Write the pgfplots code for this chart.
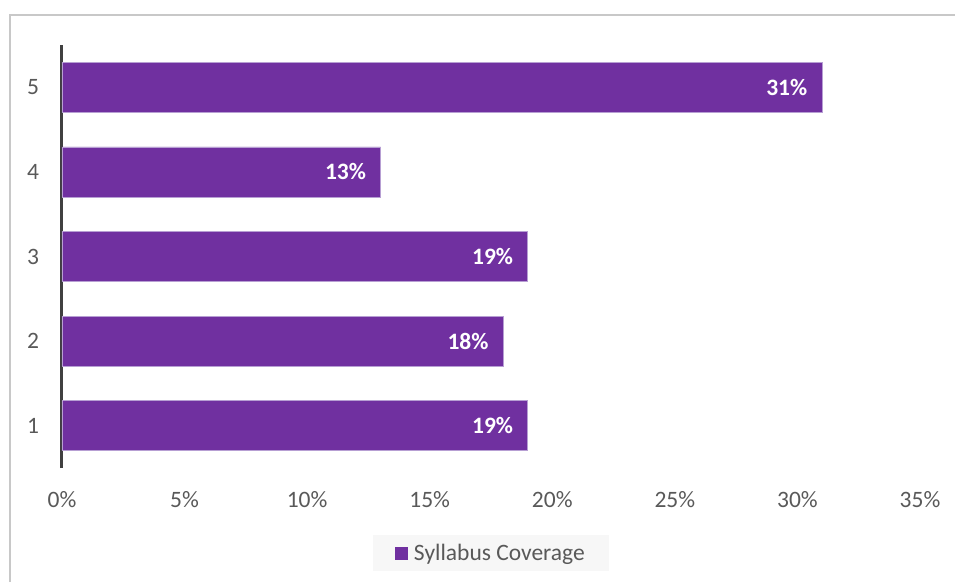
\documentclass[border=0pt]{standalone}
\usepackage{pgfplots}
\pgfplotsset{compat=1.18}
\usepackage{fontspec}
\setmainfont{Carlito}
\definecolor{barpurple}{HTML}{7030A0}
\definecolor{baredge}{HTML}{B79FD3}
\definecolor{ticktext}{HTML}{595959}
\definecolor{axisline}{HTML}{404040}
\definecolor{framecol}{HTML}{C8C8C8}
\definecolor{legfill}{HTML}{F7F7F7}
\begin{document}
\begin{tikzpicture}[x=1pt,y=1pt]
\path[use as bounding box] (0,0) rectangle (955,582);
\draw[framecol, line width=1.5pt] (10,0) -- (10,567) -- (955,567);
\begin{axis}[
  at={(62pt,114pt)}, anchor=south west,
  scale only axis, width=858pt, height=423pt,
  xmin=0, xmax=35, ymin=0.5, ymax=5.5,
  axis lines*=left,
  x axis line style={draw=none},
  y axis line style={draw=axisline, line width=3pt, -},
  xtick={0,5,...,35},
  xticklabels={0\%,5\%,10\%,15\%,20\%,25\%,30\%,35\%},
  ytick={1,2,3,4,5},
  yticklabels={1,2,3,4,5},
  major tick length=0pt,
  tick label style={font=\fontsize{23.5}{27}\selectfont, text=ticktext},
  xticklabel style={anchor=center, yshift=-32pt},
  yticklabel style={anchor=center, xshift=-29pt},
  point meta=explicit symbolic,
  legend style={at={(0.5,-0.201)}, anchor=center, fill=legfill, draw=none,
    font=\fontsize{23.5}{27}\selectfont, text=ticktext, inner xsep=22pt, inner ysep=7pt},
  legend image code/.code={\fill[barpurple] (0pt,-6pt) rectangle (12pt,6pt); \path (16pt,0pt);},
]
\addplot[xbar, fill=barpurple, draw=baredge, line width=0.8pt, bar width=50pt,
  nodes near coords,
  nodes near coords style={anchor=east, text=white, font=\bfseries\fontsize{23.5}{27}\selectfont, xshift=-11pt}]
  coordinates {(19,1) [19\%] (18,2) [18\%] (19,3) [19\%] (13,4) [13\%] (31,5) [31\%]};
\addlegendentry{Syllabus Coverage}
\end{axis}
\end{tikzpicture}
\end{document}
